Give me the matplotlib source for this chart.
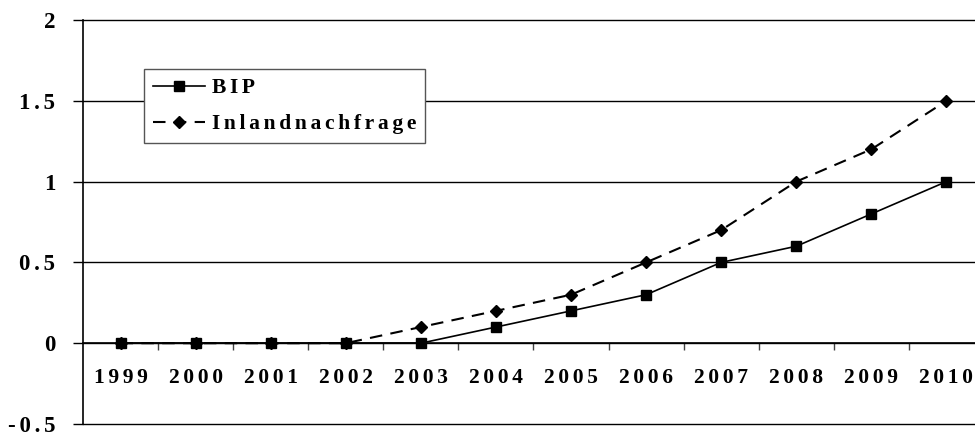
import matplotlib

matplotlib.use("Agg")
import matplotlib.pyplot as plt
from matplotlib.ticker import FixedLocator

years = ["1999", "2000", "2001", "2002", "2003", "2004",
         "2005", "2006", "2007", "2008", "2009", "2010"]
bip = [0, 0, 0, 0, 0, 0.1, 0.2, 0.3, 0.5, 0.6, 0.8, 1.0]
inland = [0, 0, 0, 0, 0.1, 0.2, 0.3, 0.5, 0.7, 1.0, 1.2, 1.5]
y_ticks = [-0.5, 0, 0.5, 1, 1.5, 2]
y_labels = ["-0.5", "0", "0.5", "1", "1.5", "2"]

SP = "\u2006"  # six-per-em space for letter spacing


def spaced(s):
    return SP.join(s)


plt.rcParams["font.family"] = ["Liberation Serif", "DejaVu Serif"]
plt.rcParams["font.weight"] = "bold"

fig = plt.figure(figsize=(9.75, 4.34), dpi=100)
W, H = 975, 434
ax = fig.add_axes([83 / W, 1 - 424 / H, (984 - 83) / W, (424 - 20) / H])

x = list(range(len(years)))
ax.plot(x, bip, color="black", linewidth=1.2, marker="s", markersize=7,
        label=spaced("BIP"))
ax.plot(x, inland, color="black", linewidth=1.5, linestyle=(0, (6, 4)),
        marker="D", markersize=6, label=spaced("Inlandnachfrage"))

ax.set_xlim(-0.5, len(years) - 0.5)
ax.set_ylim(-0.5, 2)

# spines
for side in ["top", "right"]:
    ax.spines[side].set_visible(False)
ax.spines["bottom"].set_position(("data", 0))
ax.spines["bottom"].set_linewidth(1.2)
ax.spines["left"].set_linewidth(1.2)

# y axis
ax.set_yticks(y_ticks)
ax.set_yticklabels([spaced(l) for l in y_labels], fontsize=16.5, fontweight="bold")
ax.tick_params(axis="y", direction="out", length=7, width=1, pad=13)
ax.yaxis.grid(True, color="black", linewidth=1)
for gl in ax.get_ygridlines():
    gl.set_clip_on(False)
ax.set_axisbelow(True)

# x axis: labels at centres, ticks between categories
ax.xaxis.set_major_locator(FixedLocator(x))
ax.set_xticklabels([spaced(y) for y in years], fontsize=15.5, fontweight="bold")
ax.tick_params(axis="x", which="major", length=0, pad=18)
ax.xaxis.set_minor_locator(FixedLocator([i - 0.5 for i in range(1, len(years))]))
ax.tick_params(axis="x", which="minor", direction="out", length=5, width=1,
               color="#444444")

leg = ax.legend(loc="upper left", bbox_to_anchor=(144 / W, 1 - 69 / H),
                bbox_transform=fig.transFigure, borderaxespad=0,
                fancybox=False, framealpha=1, edgecolor="#555555",
                prop={"size": 15.5, "weight": "bold"}, handlelength=2.4,
                handletextpad=0.33, labelspacing=0.75, borderpad=0.42)
leg.get_frame().set_linewidth(1)

fig.savefig("out.png", dpi=100)
